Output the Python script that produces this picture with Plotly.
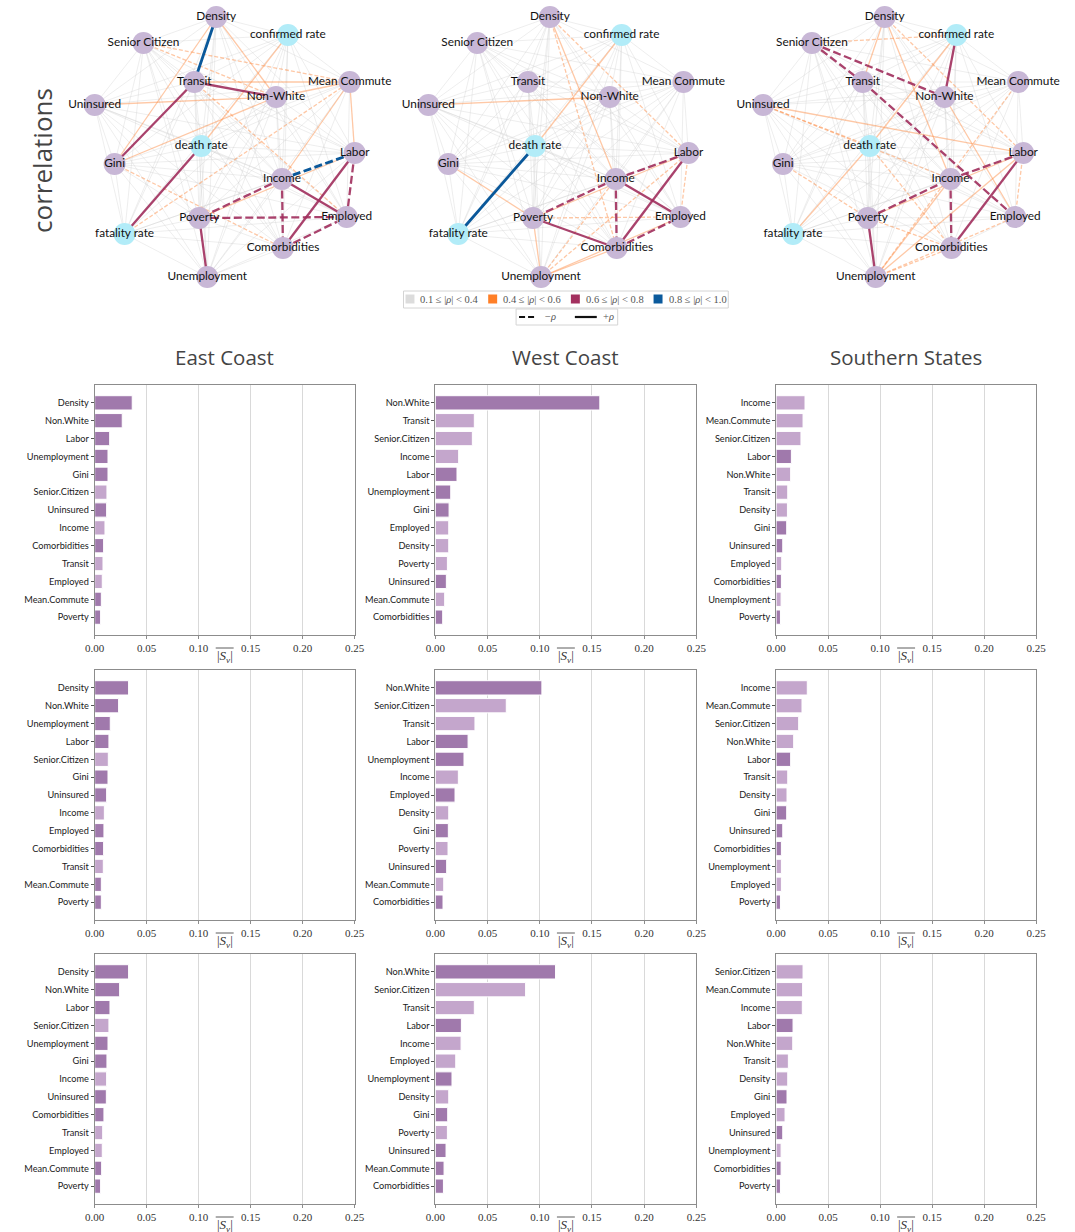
import plotly.graph_objects as go

W, H = 1075, 1232
# horizontal placement helpers (pixel positions across the page width)
X0, XSPAN = 8.0, 1059.0


def fx(px):
    return min(1.0, max(0.0, (px - X0) / XSPAN))


def fxa(px):
    # unclamped version for annotations and shapes
    return (px - X0) / XSPAN


def fy(py):
    return 1 - py / H


# ---------------------------------------------------------------- network data
NODES = ["Density", "confirmed rate", "Senior Citizen", "Transit", "Mean Commute",
         "Non-White", "Uninsured", "death rate", "Gini", "Labor", "Income",
         "Poverty", "Employed", "fatality rate", "Comorbidities", "Unemployment"]
# shared graph layout (same positions in every region)
NODE_X = [215, 287, 142, 193, 349, 275, 93, 200, 113, 354, 281, 198, 346, 123, 282, 206]
NODE_Y = [17, 35, 43, 82, 82, 97, 105, 146, 164, 153, 179, 218, 217, 234, 248, 277]
OUTCOMES = ["confirmed rate", "death rate", "fatality rate"]

# pairwise correlations with |rho| >= 0.4; every other pair sits in the 0.1-0.4 band
EAST_EDGES = [
    ("Density", "Transit", 0.85), ("Income", "Labor", -0.82),
    ("Transit", "Non-White", 0.65), ("Transit", "Gini", 0.63),
    ("death rate", "fatality rate", 0.70), ("Poverty", "Unemployment", 0.66),
    ("Income", "Employed", 0.64), ("Labor", "Comorbidities", 0.62),
    ("Income", "Poverty", -0.70), ("Poverty", "Employed", -0.65),
    ("Income", "Comorbidities", -0.66), ("Labor", "Employed", -0.62),
    ("Comorbidities", "Employed", -0.61),
    ("Density", "Gini", 0.45), ("Density", "Non-White", 0.50),
    ("confirmed rate", "death rate", 0.45), ("Transit", "Mean Commute", 0.50),
    ("Uninsured", "Non-White", 0.45), ("Non-White", "Mean Commute", 0.45),
    ("Gini", "Non-White", 0.42), ("Mean Commute", "Labor", 0.45),
    ("Mean Commute", "Income", 0.44), ("Poverty", "Labor", 0.43),
    ("Transit", "Employed", -0.45), ("Senior Citizen", "Non-White", -0.42),
    ("Senior Citizen", "Mean Commute", -0.42), ("fatality rate", "Mean Commute", -0.41),
    ("Gini", "Comorbidities", -0.42),
]
WEST_EDGES = [
    ("death rate", "fatality rate", 0.88),
    ("Income", "Poverty", -0.70), ("Income", "Labor", -0.68),
    ("Income", "Comorbidities", -0.68), ("Comorbidities", "Employed", -0.65),
    ("Income", "Employed", 0.66), ("Poverty", "Comorbidities", 0.67),
    ("Labor", "Comorbidities", 0.65),
    ("Density", "Income", 0.45), ("confirmed rate", "death rate", 0.45),
    ("Uninsured", "Non-White", 0.45), ("Gini", "Poverty", 0.45),
    ("Poverty", "Unemployment", 0.45), ("Unemployment", "Comorbidities", 0.45),
    ("Poverty", "Labor", 0.42), ("Unemployment", "Employed", 0.42),
    ("Density", "Comorbidities", -0.45), ("Density", "Labor", -0.42),
    ("Labor", "Employed", -0.42), ("Poverty", "Employed", -0.42),
    ("Unemployment", "Income", -0.42), ("Unemployment", "Labor", -0.41),
]
SOUTH_EDGES = [
    ("confirmed rate", "Non-White", 0.65), ("Labor", "Comorbidities", 0.66),
    ("Poverty", "Unemployment", 0.66),
    ("Senior Citizen", "Non-White", -0.65), ("Senior Citizen", "Transit", -0.62),
    ("Transit", "Employed", -0.62), ("Poverty", "Income", -0.65),
    ("Income", "Labor", -0.64), ("Income", "Comorbidities", -0.66),
    ("Density", "Transit", 0.45), ("Density", "Income", 0.45),
    ("Uninsured", "Labor", 0.45), ("death rate", "fatality rate", 0.45),
    ("confirmed rate", "death rate", 0.45), ("Non-White", "Employed", 0.45),
    ("Poverty", "Labor", 0.45), ("Unemployment", "Labor", 0.42),
    ("Unemployment", "Income", 0.42),
    ("Unemployment", "Employed", -0.42), ("Unemployment", "Comorbidities", -0.42),
    ("Senior Citizen", "confirmed rate", -0.42), ("Density", "Labor", -0.42),
    ("Uninsured", "death rate", -0.42), ("Uninsured", "Income", -0.41),
    ("Gini", "Poverty", -0.42), ("Poverty", "Comorbidities", -0.41),
    ("Mean Commute", "Unemployment", -0.42), ("Labor", "Employed", -0.41),
    ("death rate", "Comorbidities", -0.41),
]
NETWORKS = [EAST_EDGES, WEST_EDGES, SOUTH_EDGES]
NET_OFFSETS = [0, 335, 671]

# ---------------------------------------------------------------- bar data
REGIONS = ["East Coast", "West Coast", "Southern States"]

# row 1
E1_LABELS = ["Density", "Non.White", "Labor", "Unemployment", "Gini", "Senior.Citizen", "Uninsured",
             "Income", "Comorbidities", "Transit", "Employed", "Mean.Commute", "Poverty"]
E1_VALUES = [0.0361, 0.0265, 0.0144, 0.0128, 0.0128, 0.0118, 0.0115, 0.0099, 0.0086, 0.0080, 0.0073, 0.0064, 0.0057]
E1_SIGN = [1, 1, 1, 1, 1, -1, 1, -1, 1, -1, -1, 1, 1]

W1_LABELS = ["Non.White", "Transit", "Senior.Citizen", "Income", "Labor", "Unemployment", "Gini",
             "Employed", "Density", "Poverty", "Uninsured", "Mean.Commute", "Comorbidities"]
W1_VALUES = [0.1575, 0.0373, 0.0354, 0.0223, 0.0207, 0.0147, 0.0131, 0.0128, 0.0128, 0.0115, 0.0105, 0.0089, 0.0070]
W1_SIGN = [1, -1, -1, -1, 1, 1, 1, -1, -1, -1, 1, -1, 1]

S1_LABELS = ["Income", "Mean.Commute", "Senior.Citizen", "Labor", "Non.White", "Transit", "Density",
             "Gini", "Uninsured", "Employed", "Comorbidities", "Unemployment", "Poverty"]
S1_VALUES = [0.0278, 0.0259, 0.0239, 0.0147, 0.0140, 0.0112, 0.0109, 0.0102, 0.0064, 0.0054, 0.0051, 0.0048, 0.0042]
S1_SIGN = [-1, -1, -1, 1, -1, -1, -1, 1, 1, -1, 1, -1, 1]

# row 2
E2_LABELS = ["Density", "Non.White", "Unemployment", "Labor", "Senior.Citizen", "Gini", "Uninsured",
             "Income", "Employed", "Comorbidities", "Transit", "Mean.Commute", "Poverty"]
E2_VALUES = [0.0326, 0.0230, 0.0150, 0.0137, 0.0131, 0.0128, 0.0115, 0.0093, 0.0089, 0.0086, 0.0083, 0.0064, 0.0064]
E2_SIGN = [1, 1, 1, 1, -1, 1, 1, -1, 1, 1, -1, 1, 1]

W2_LABELS = ["Non.White", "Senior.Citizen", "Transit", "Labor", "Unemployment", "Income", "Employed",
             "Density", "Gini", "Poverty", "Uninsured", "Mean.Commute", "Comorbidities"]
W2_VALUES = [0.1020, 0.0679, 0.0379, 0.0313, 0.0274, 0.0220, 0.0188, 0.0128, 0.0124, 0.0121, 0.0108, 0.0080, 0.0073]
W2_SIGN = [1, -1, -1, 1, 1, -1, 1, -1, 1, -1, 1, -1, 1]

S2_LABELS = ["Income", "Mean.Commute", "Senior.Citizen", "Non.White", "Labor", "Transit", "Density",
             "Gini", "Uninsured", "Comorbidities", "Unemployment", "Employed", "Poverty"]
S2_VALUES = [0.0300, 0.0249, 0.0217, 0.0169, 0.0140, 0.0112, 0.0105, 0.0102, 0.0064, 0.0051, 0.0051, 0.0051, 0.0042]
S2_SIGN = [-1, -1, -1, -1, 1, -1, -1, 1, 1, 1, -1, -1, 1]

# row 3
E3_LABELS = ["Density", "Non.White", "Labor", "Senior.Citizen", "Unemployment", "Gini", "Income",
             "Uninsured", "Comorbidities", "Transit", "Employed", "Mean.Commute", "Poverty"]
E3_VALUES = [0.0326, 0.0240, 0.0147, 0.0137, 0.0128, 0.0118, 0.0115, 0.0112, 0.0089, 0.0077, 0.0073, 0.0067, 0.0057]
E3_SIGN = [1, 1, 1, -1, 1, 1, -1, 1, 1, -1, -1, 1, 1]

W3_LABELS = ["Non.White", "Senior.Citizen", "Transit", "Labor", "Income", "Employed", "Unemployment",
             "Density", "Gini", "Poverty", "Uninsured", "Mean.Commute", "Comorbidities"]
W3_VALUES = [0.1151, 0.0864, 0.0373, 0.0249, 0.0246, 0.0195, 0.0159, 0.0128, 0.0118, 0.0115, 0.0102, 0.0083, 0.0077]
W3_SIGN = [1, -1, -1, 1, -1, -1, 1, -1, 1, -1, 1, 1, 1]

S3_LABELS = ["Senior.Citizen", "Mean.Commute", "Income", "Labor", "Non.White", "Transit", "Density",
             "Gini", "Employed", "Uninsured", "Unemployment", "Comorbidities", "Poverty"]
S3_VALUES = [0.0259, 0.0255, 0.0252, 0.0163, 0.0160, 0.0118, 0.0112, 0.0105, 0.0086, 0.0064, 0.0048, 0.0048, 0.0042]
S3_SIGN = [-1, -1, -1, 1, -1, -1, -1, 1, -1, 1, -1, 1, 1]

BAR_PANELS = [
    [(E1_LABELS, E1_VALUES, E1_SIGN), (W1_LABELS, W1_VALUES, W1_SIGN), (S1_LABELS, S1_VALUES, S1_SIGN)],
    [(E2_LABELS, E2_VALUES, E2_SIGN), (W2_LABELS, W2_VALUES, W2_SIGN), (S2_LABELS, S2_VALUES, S2_SIGN)],
    [(E3_LABELS, E3_VALUES, E3_SIGN), (W3_LABELS, W3_VALUES, W3_SIGN), (S3_LABELS, S3_VALUES, S3_SIGN)],
]
X_TICKS = [0.0, 0.05, 0.10, 0.15, 0.20, 0.25]

# ---------------------------------------------------------------- styling
DARK = "#a079ac"
LIGHT = "#c4a6cc"
NODE_COLOR = "#c8b7d6"
OUTCOME_COLOR = "#b2ecf8"
BANDS = [  # (lower bound, legend colour, edge colour, width)
    (0.1, "#dcdcdc", "rgba(205,205,205,0.42)", 0.8),
    (0.4, "#ff7f27", "rgba(252,141,70,0.48)", 1.3),
    (0.6, "#a3305f", "rgba(160,45,92,0.9)", 2.3),
    (0.8, "#0b5a9c", "rgba(10,88,154,1.0)", 2.8),
]

SANS = "Lato, 'DejaVu Sans', sans-serif"
SERIF = "'Liberation Serif', 'DejaVu Serif', serif"

fig = go.Figure()
layout_axes = {}

# ---------------------------------------------------------------- networks
NET_LEFT, NET_RIGHT = 40, 390
NET_TOP, NET_BOTTOM = 0, 300
pos = {n: (x, y) for n, x, y in zip(NODES, NODE_X, NODE_Y)}


def band_of(r):
    a = abs(r)
    idx = 0
    for i, b in enumerate(BANDS):
        if a >= b[0]:
            idx = i
    return idx


for k, (edges, off) in enumerate(zip(NETWORKS, NET_OFFSETS)):
    ax = "" if k == 0 else str(k + 1)
    xa, ya = "x" + ax, "y" + ax
    layout_axes["xaxis" + ax] = dict(domain=[fx(NET_LEFT + off), fx(NET_RIGHT + off)],
                                     range=[NET_LEFT, NET_RIGHT], visible=False, anchor=ya,
                                     fixedrange=True)
    layout_axes["yaxis" + ax] = dict(domain=[fy(NET_BOTTOM), fy(NET_TOP)],
                                     range=[NET_BOTTOM, NET_TOP], visible=False, anchor=xa,
                                     fixedrange=True)
    strong = {frozenset((a, b)) for a, b, _ in edges}
    weak = []
    for i in range(len(NODES)):
        for j in range(i + 1, len(NODES)):
            if frozenset((NODES[i], NODES[j])) not in strong:
                weak.append((NODES[i], NODES[j], 0.2))
    all_edges = weak + list(edges)

    for bi, (_, _, ecol, ew) in enumerate(BANDS):
        for sign in (1, -1):
            xs, ys = [], []
            for a, b, r in all_edges:
                if band_of(r) == bi and (r > 0) == (sign > 0):
                    xs += [pos[a][0], pos[b][0], None]
                    ys += [pos[a][1], pos[b][1], None]
            if not xs:
                continue
            if sign > 0:
                dash = "solid"
            else:
                dash = "4px,2px" if ew < 2 else "8px,3.5px"
            fig.add_trace(go.Scatter(x=xs, y=ys, mode="lines", xaxis=xa, yaxis=ya,
                                     line=dict(color=ecol, width=ew, dash=dash),
                                     hoverinfo="skip", showlegend=False, cliponaxis=False))

    fig.add_trace(go.Scatter(
        x=NODE_X, y=NODE_Y, mode="markers+text", text=NODES, textposition="middle center",
        textfont=dict(family=SANS, size=11.8, color="#111"), cliponaxis=False,
        marker=dict(size=22, color=[OUTCOME_COLOR if n in OUTCOMES else NODE_COLOR for n in NODES],
                    line=dict(width=0)),
        xaxis=xa, yaxis=ya, hoverinfo="text", showlegend=False))

# ---------------------------------------------------------------- bar panels
COL_X = [(93, 354), (435, 697), (777, 1038)]
ROW_Y = [(385, 635), (670, 920), (954, 1204)]

shapes = []
annotations = []

ai = 4
for r, row in enumerate(BAR_PANELS):
    for c, (labels, values, signs) in enumerate(row):
        ax = str(ai)
        xa, ya = "x" + ax, "y" + ax
        n = len(labels)
        ypos = list(range(n - 1, -1, -1))
        layout_axes["xaxis" + ax] = dict(
            domain=[fx(COL_X[c][0]), fx(COL_X[c][1])], anchor=ya, range=[0, 0.25],
            tickvals=X_TICKS, ticktext=[f"{t:.2f}" for t in X_TICKS],
            tickfont=dict(family=SERIF, size=11, color="#333"),
            showgrid=True, gridcolor="#d9d9d9", gridwidth=1, zeroline=False,
            showline=True, linecolor="#8c8c8c", linewidth=1, mirror=True,
            ticks="outside", ticklen=3, tickcolor="#8c8c8c", fixedrange=True)
        layout_axes["yaxis" + ax] = dict(
            domain=[fy(ROW_Y[r][1]), fy(ROW_Y[r][0])], anchor=xa, range=[-1, n],
            tickvals=ypos, ticktext=labels,
            tickfont=dict(family=SANS, size=9.2, color="#1a1a1a"),
            showgrid=False, zeroline=False, showline=True, linecolor="#8c8c8c",
            linewidth=1, mirror=True, ticks="outside", ticklen=3, tickcolor="#555",
            fixedrange=True)
        fig.add_trace(go.Bar(
            x=values, y=ypos, orientation="h", width=0.8, xaxis=xa, yaxis=ya,
            marker=dict(color=[DARK if s > 0 else LIGHT for s in signs],
                        line=dict(color="white", width=1)),
            hovertext=labels, showlegend=False))
        # x-axis title: mean |S_v| with an overbar
        cx = (COL_X[c][0] + COL_X[c][1]) / 2
        ty = ROW_Y[r][1] + 21
        annotations.append(dict(x=fxa(cx), y=fy(ty), xref="paper", yref="paper",
                                text="|<i>S</i><sub><i>v</i></sub>|", showarrow=False,
                                font=dict(family=SERIF, size=13, color="#333"),
                                xanchor="center", yanchor="middle"))
        shapes.append(dict(type="line", xref="paper", yref="paper",
                           x0=fxa(cx - 9), x1=fxa(cx + 9), y0=fy(ty - 8), y1=fy(ty - 8),
                           line=dict(color="#333", width=0.8)))
        ai += 1

# column titles
for c, name in enumerate(REGIONS):
    cx = (COL_X[c][0] + COL_X[c][1]) / 2
    annotations.append(dict(x=fxa(cx), y=fy(357), xref="paper", yref="paper", text=name,
                            showarrow=False, font=dict(family="'Open Sans', sans-serif", size=20.5,
                                                      color="#444"),
                            xanchor="center", yanchor="middle"))

# row label for the network row
annotations.append(dict(x=fxa(40), y=fy(160), xref="paper", yref="paper", text="correlations",
                        textangle=-90, showarrow=False,
                        font=dict(family="'Open Sans', sans-serif", size=26, color="#444"),
                        xanchor="center", yanchor="middle"))

# ---------------------------------------------------------------- network legend
LEG_LABELS = ["0.1 ≤ |<i>ρ</i>| < 0.4", "0.4 ≤ |<i>ρ</i>| < 0.6",
              "0.6 ≤ |<i>ρ</i>| < 0.8", "0.8 ≤ |<i>ρ</i>| < 1.0"]
shapes.append(dict(type="rect", xref="paper", yref="paper", x0=fxa(403), x1=fxa(729),
                   y0=fy(308), y1=fy(291), line=dict(color="#d4d4d4", width=1),
                   fillcolor="white"))
sw_x = [405, 488, 571, 654]
for (lo, lcol, _, _), sx, lab in zip(BANDS, sw_x, LEG_LABELS):
    shapes.append(dict(type="rect", xref="paper", yref="paper", x0=fxa(sx), x1=fxa(sx + 9),
                       y0=fy(303.5), y1=fy(294.5), line=dict(width=0), fillcolor=lcol))
    annotations.append(dict(x=fxa(sx + 13), y=fy(299), xref="paper", yref="paper", text=lab,
                            showarrow=False, xanchor="left", yanchor="middle",
                            font=dict(family=SERIF, size=10.5, color="#555")))
shapes.append(dict(type="rect", xref="paper", yref="paper", x0=fxa(516), x1=fxa(618),
                   y0=fy(325), y1=fy(309), line=dict(color="#d4d4d4", width=1),
                   fillcolor="white"))
shapes.append(dict(type="line", xref="paper", yref="paper", x0=fxa(519), x1=fxa(537),
                   y0=fy(317), y1=fy(317), line=dict(color="#111", width=2.2, dash="6px,3px")))
shapes.append(dict(type="line", xref="paper", yref="paper", x0=fxa(575), x1=fxa(597),
                   y0=fy(317), y1=fy(317), line=dict(color="#111", width=2.2)))
annotations.append(dict(x=fxa(543), y=fy(317), xref="paper", yref="paper", text="−<i>ρ</i>",
                        showarrow=False, xanchor="left", yanchor="middle",
                        font=dict(family=SERIF, size=10.5, color="#555")))
annotations.append(dict(x=fxa(601), y=fy(317), xref="paper", yref="paper", text="+<i>ρ</i>",
                        showarrow=False, xanchor="left", yanchor="middle",
                        font=dict(family=SERIF, size=10.5, color="#555")))

fig.update_layout(
    width=W, height=H, margin=dict(l=0, r=0, t=0, b=0, pad=0),
    paper_bgcolor="white", plot_bgcolor="rgba(0,0,0,0)", showlegend=False,
    bargap=0.2, shapes=shapes, annotations=annotations, **layout_axes)

fig.write_html("out.html")
